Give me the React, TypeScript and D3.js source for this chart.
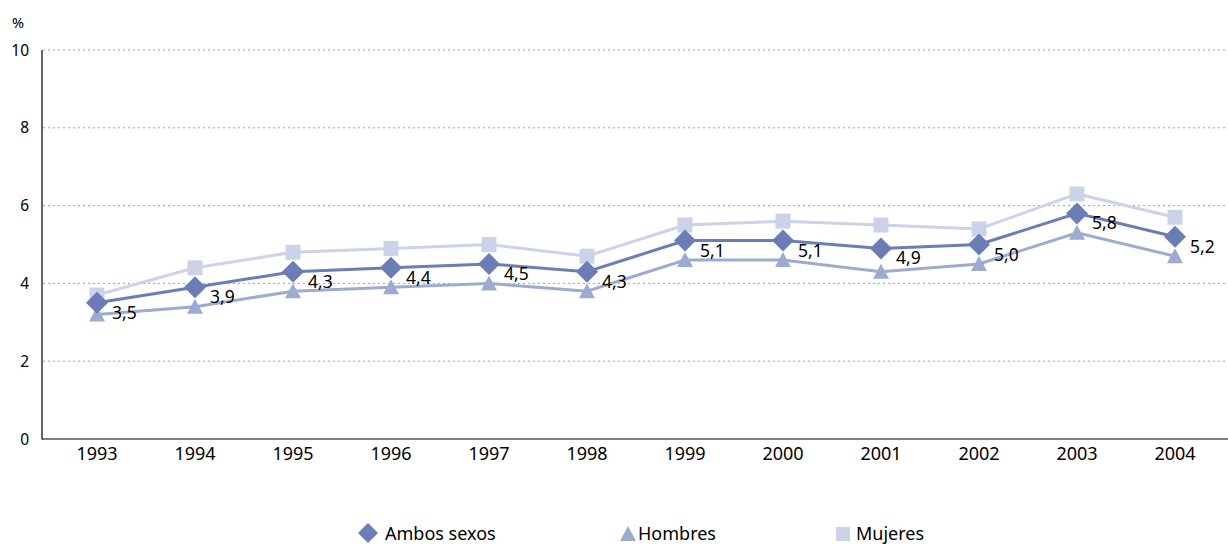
import React from "react";
import * as d3 from "d3";

const years = ["1993","1994","1995","1996","1997","1998","1999","2000","2001","2002","2003","2004"];
const ambos = [3.5,3.9,4.3,4.4,4.5,4.3,5.1,5.1,4.9,5.0,5.8,5.2];
const hombres = [3.2,3.4,3.8,3.9,4.0,3.8,4.6,4.6,4.3,4.5,5.3,4.7];
const mujeres = [3.7,4.4,4.8,4.9,5.0,4.7,5.5,5.6,5.5,5.4,6.3,5.7];
const yTicks = [0,2,4,6,8,10];
const ambosLabels = ["3,5","3,9","4,3","4,4","4,5","4,3","5,1","5,1","4,9","5,0","5,8","5,2"];

const C_AMBOS = "#6a7db6";
const C_HOMB = "#9eabd1";
const C_MUJ = "#ccd3e8";
const FONT = "'Noto Sans', 'Open Sans', sans-serif";

export default function App() {
  const W = 1228, H = 544;
  const x = d3.scalePoint<string>().domain(years).range([97, 1175]);
  const y = d3.scaleLinear().domain([0, 10]).range([439, 50]);
  const line = (vals: number[]) =>
    d3.line<number>().x((_, i) => x(years[i])!).y(d => y(d))(vals)!;

  const diamond = (cx: number, cy: number, r = 11) =>
    `M${cx},${cy - r}L${cx + r},${cy}L${cx},${cy + r}L${cx - r},${cy}Z`;
  const tri = (cx: number, cy: number) =>
    `M${cx},${cy - 8}L${cx + 8},${cy + 7}L${cx - 8},${cy + 7}Z`;

  return (
    <svg width={W} height={H} style={{ position: "absolute", left: 0, top: 0 }} fontFamily={FONT}>
      <rect width={W} height={H} fill="#fff" />
      {yTicks.filter(t => t > 0).map(t => (
        <line key={t} x1={43} x2={1228} y1={y(t)} y2={y(t)} stroke="#a0a0a0" strokeWidth={1} strokeDasharray="2,3" />
      ))}
      <line x1={42} x2={42} y1={50} y2={439.5} stroke="#000" strokeWidth={1.2} />
      <line x1={42} x2={1228} y1={439} y2={439} stroke="#000" strokeWidth={1.2} />
      {yTicks.map(t => (
        <text key={t} x={29} y={y(t) + 5.5} fontSize={15.5} textAnchor="end" fill="#000">{t}</text>
      ))}
      <text x={12} y={28} fontSize={14.5} fill="#000">%</text>
      {years.map(yr => (
        <text key={yr} x={x(yr)} y={460} fontSize={18} textAnchor="middle" fill="#000">{yr}</text>
      ))}

      <path d={line(mujeres)} fill="none" stroke={C_MUJ} strokeWidth={3} />
      <path d={line(hombres)} fill="none" stroke={C_HOMB} strokeWidth={3} />
      <path d={line(ambos)} fill="none" stroke={C_AMBOS} strokeWidth={3} />

      {mujeres.map((v, i) => (
        <rect key={"m" + i} x={x(years[i])! - 7.5} y={y(v) - 7.5} width={15} height={15} fill={C_MUJ} />
      ))}
      {hombres.map((v, i) => (
        <path key={"h" + i} d={tri(x(years[i])!, y(v))} fill={C_HOMB} />
      ))}
      {ambos.map((v, i) => (
        <path key={"a" + i} d={diamond(x(years[i])!, y(v))} fill={C_AMBOS} />
      ))}
      {ambos.map((v, i) => (
        <text key={"l" + i} x={x(years[i])! + 15} y={y(v) + 16} fontSize={17.5} fill="#000">{ambosLabels[i]}</text>
      ))}

      <path d={diamond(368, 533, 10)} fill={C_AMBOS} />
      <text x={385} y={540} fontSize={18} fill="#000">Ambos sexos</text>
      <path d={tri(628, 534)} fill={C_HOMB} />
      <text x={638} y={540} fontSize={18} fill="#000">Hombres</text>
      <rect x={836} y={527} width={14} height={14} fill={C_MUJ} />
      <text x={856} y={540} fontSize={18} fill="#000">Mujeres</text>
    </svg>
  );
}
